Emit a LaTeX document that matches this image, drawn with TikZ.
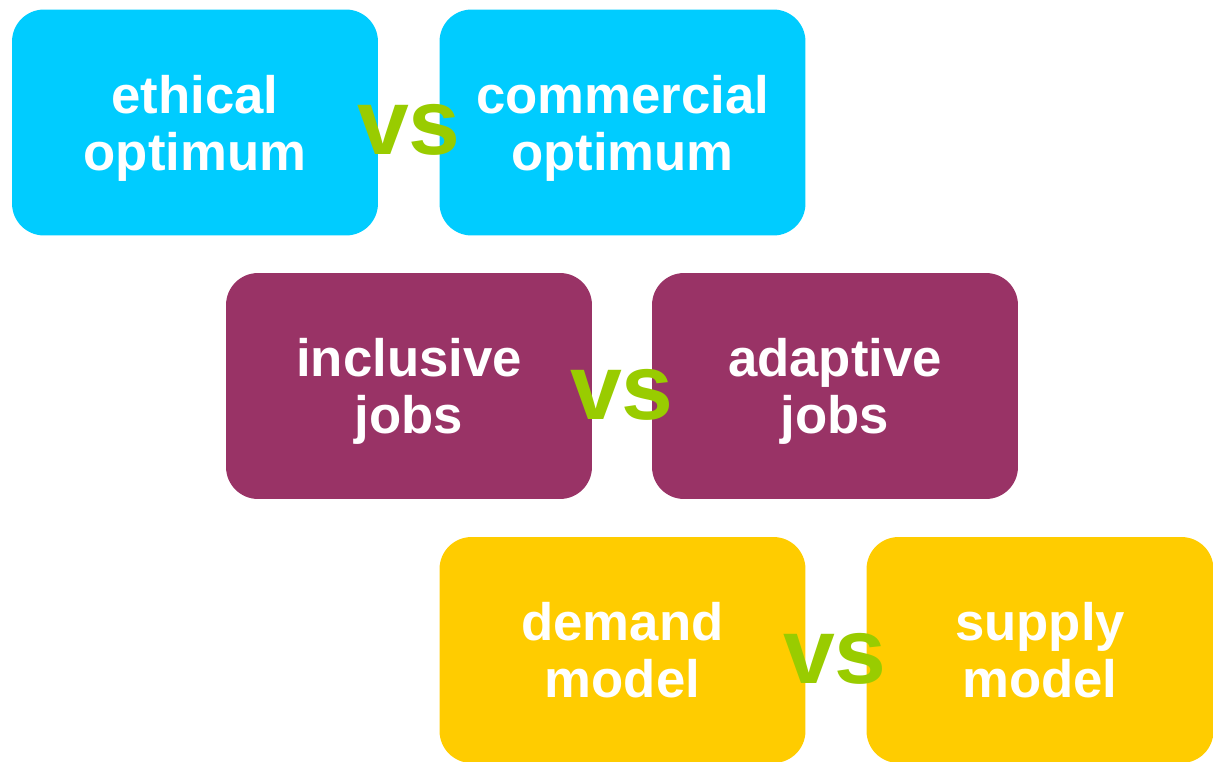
\documentclass[tikz,border=0pt]{standalone}
\usepackage{fontspec}
\setmainfont{Liberation Sans}
\usepackage{tikz}
\definecolor{skyblue}{HTML}{00CCFF}
\definecolor{plum}{HTML}{993366}
\definecolor{gold}{HTML}{FFCC00}
\definecolor{lime}{HTML}{99CC00}

\begin{document}
\begin{tikzpicture}[x=0.02cm, y=-0.02cm]
        \tikzstyle{choice}=[rectangle, rounded corners=0.64cm, minimum width=7.32cm, minimum height=4.52cm, align=center, text=white, font=\fontsize{30}{32.5}\selectfont\bfseries, inner sep=0pt, text depth=0pt]
        \tikzstyle{versus}=[text=lime, font=\fontsize{53}{60}\selectfont\bfseries, inner sep=0pt]
        \useasboundingbox (0,0) rectangle (1213,761);
        \clip (0,0) rectangle (1213,761);
        % top row
        \node [choice, fill=skyblue] (ethical) at (195,122.5) {ethical\\optimum};
        \node [choice, fill=skyblue] (commercial) at (622.5,122.5) {commercial\\optimum};
        % middle row
        \node [choice, fill=plum] (inclusive) at (409,386) {inclusive\\jobs};
        \node [choice, fill=plum] (adaptive) at (835,386) {adaptive\\jobs};
        % bottom row
        \node [choice, fill=gold] (demand) at (622.5,650) {demand\\model};
        \node [choice, fill=gold, minimum width=6.94cm] (supply) at (1040,650) {supply\\model};
        % vs labels
        \node [versus] (vs1) at (409,130) {vs};
        \node [versus] (vs2) at (622,395) {vs};
        \node [versus] (vs3) at (835,659) {vs};
\end{tikzpicture}
\end{document}
